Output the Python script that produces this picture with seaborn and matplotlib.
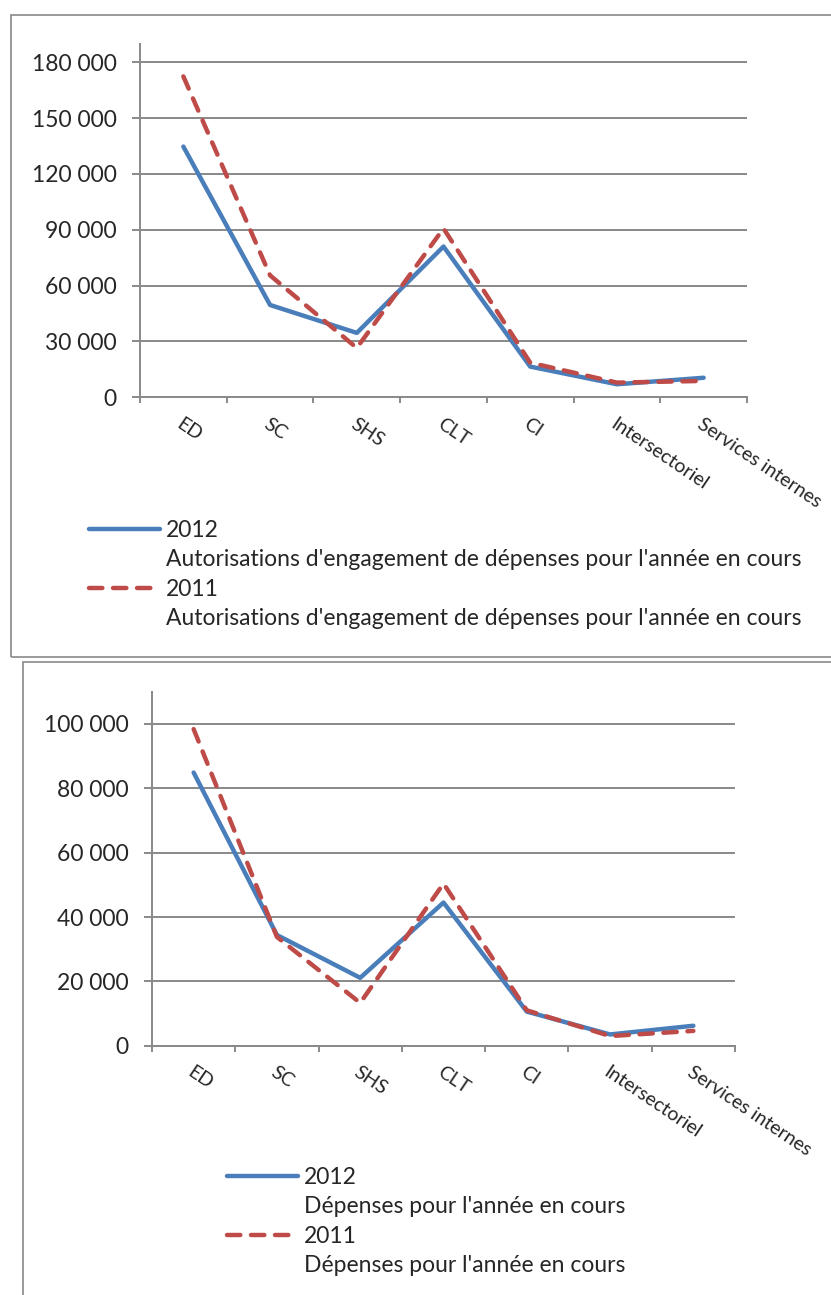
import pandas as pd
import matplotlib.pyplot as plt
import seaborn as sns
from matplotlib.lines import Line2D
from matplotlib.patches import Rectangle
from matplotlib.ticker import FuncFormatter, FixedLocator

categories = ["ED", "SC", "SHS", "CLT", "CI", "Intersectoriel", "Services internes"]
years = ["2012", "2011"]

# autorisations d'engagement
ae_2012 = [134700, 49600, 34600, 81000, 16500, 7000, 10500]
ae_2011 = [172400, 65500, 26500, 90700, 18600, 7900, 8800]

# dépenses
dep_2012 = [84900, 34400, 21100, 44500, 10600, 3500, 6200]
dep_2011 = [98400, 33800, 13300, 50400, 11000, 3000, 4600]

ae_label = "Autorisations d'engagement de dépenses pour l'année en cours"
dep_label = "Dépenses pour l'année en cours"

BLUE = "#4A7EBB"
RED = "#BE4B48"
GRID = "#898989"
W, H = 831, 1295

sns.set_style("white")
plt.rcParams["font.family"] = ["Lato", "DejaVu Sans"]
plt.rcParams["lines.solid_capstyle"] = "round"
plt.rcParams["lines.dash_capstyle"] = "round"
plt.rcParams["lines.solid_joinstyle"] = "round"
plt.rcParams["lines.dash_joinstyle"] = "round"

FS = 16.5      # y ticks + legend
FS_CAT = 14    # category labels
LW = 3.2
DASH = (3.0, 2.4)


def box(l, t, r, b):
    return [l / W, 1 - b / H, (r - l) / W, (b - t) / H]


def make_df(v2012, v2011):
    rows = []
    for y, vals in zip(years, [v2012, v2011]):
        for c, v in zip(categories, vals):
            rows.append({"cat": c, "year": y, "val": v})
    return pd.DataFrame(rows)


def panel(fig, rect, df, ymax, step, legend_xy, desc):
    ax = fig.add_axes(box(*rect))
    sns.lineplot(data=df, x="cat", y="val", hue="year", style="year",
                 palette={"2012": BLUE, "2011": RED},
                 dashes={"2012": "", "2011": DASH},
                 linewidth=LW, legend=False, sort=False, ax=ax)
    ax.set_xlim(-0.5, len(categories) - 0.5)
    ax.set_ylim(0, ymax)
    ticks = list(range(0, int(ymax) + 1, step))
    ax.yaxis.set_major_locator(FixedLocator(ticks))
    ax.yaxis.set_major_formatter(FuncFormatter(lambda v, p: f"{v:,.0f}".replace(",", " ")))
    ax.grid(True, axis="y", color=GRID, linewidth=1.4)
    ax.set_axisbelow(True)
    for s in ["top", "right"]:
        ax.spines[s].set_visible(False)
    for s in ["left", "bottom"]:
        ax.spines[s].set_color(GRID)
        ax.spines[s].set_linewidth(1.4)
    ax.set_xticks(range(len(categories)))
    ax.set_xticklabels(categories, rotation=-34, rotation_mode="anchor",
                       ha="left", va="top", fontsize=FS_CAT)
    ax.set_xticks([i - 0.5 for i in range(len(categories) + 1)], minor=True)
    ax.tick_params(axis="x", which="major", length=0, pad=13)
    ax.tick_params(axis="x", which="minor", length=4.5, width=1.4, color=GRID, bottom=True)
    ax.tick_params(axis="y", length=6, width=1.4, color=GRID, left=True, labelsize=FS, pad=11)
    ax.set_xlabel("")
    ax.set_ylabel("")

    blank = Line2D([], [], linestyle="none")
    handles = [Line2D([], [], color=BLUE, linewidth=LW), blank,
               Line2D([], [], color=RED, linewidth=LW, dashes=DASH), blank]
    labels = ["2012", desc, "2011", desc]
    fig.legend(handles, labels, loc="upper left",
               bbox_to_anchor=(legend_xy[0] / W, 1 - legend_xy[1] / H),
               frameon=False, fontsize=FS, handlelength=3.1, handletextpad=0.25,
               labelspacing=0.37, borderpad=0, borderaxespad=0)
    return ax


fig = plt.figure(figsize=(W / 100, H / 100), dpi=100)

# panel borders
fig.add_artist(Rectangle((11 / W, 1 - 657 / H), (W + 10 - 11) / W, (657 - 15) / H,
                         transform=fig.transFigure, fill=False, edgecolor=GRID, linewidth=1.2))
fig.add_artist(Rectangle((22.5 / W, -0.05), (W + 10 - 22.5) / W, 0.05 + (H - 662.5) / H,
                         transform=fig.transFigure, fill=False, edgecolor=GRID, linewidth=1.2))

panel(fig, (140, 44, 747, 397.3), make_df(ae_2012, ae_2011), 189800, 30000, (89, 520), ae_label)
panel(fig, (152, 692.3, 735, 1045.7), make_df(dep_2012, dep_2011), 109850, 20000, (227, 1167), dep_label)

fig.savefig("out.png", dpi=100)
